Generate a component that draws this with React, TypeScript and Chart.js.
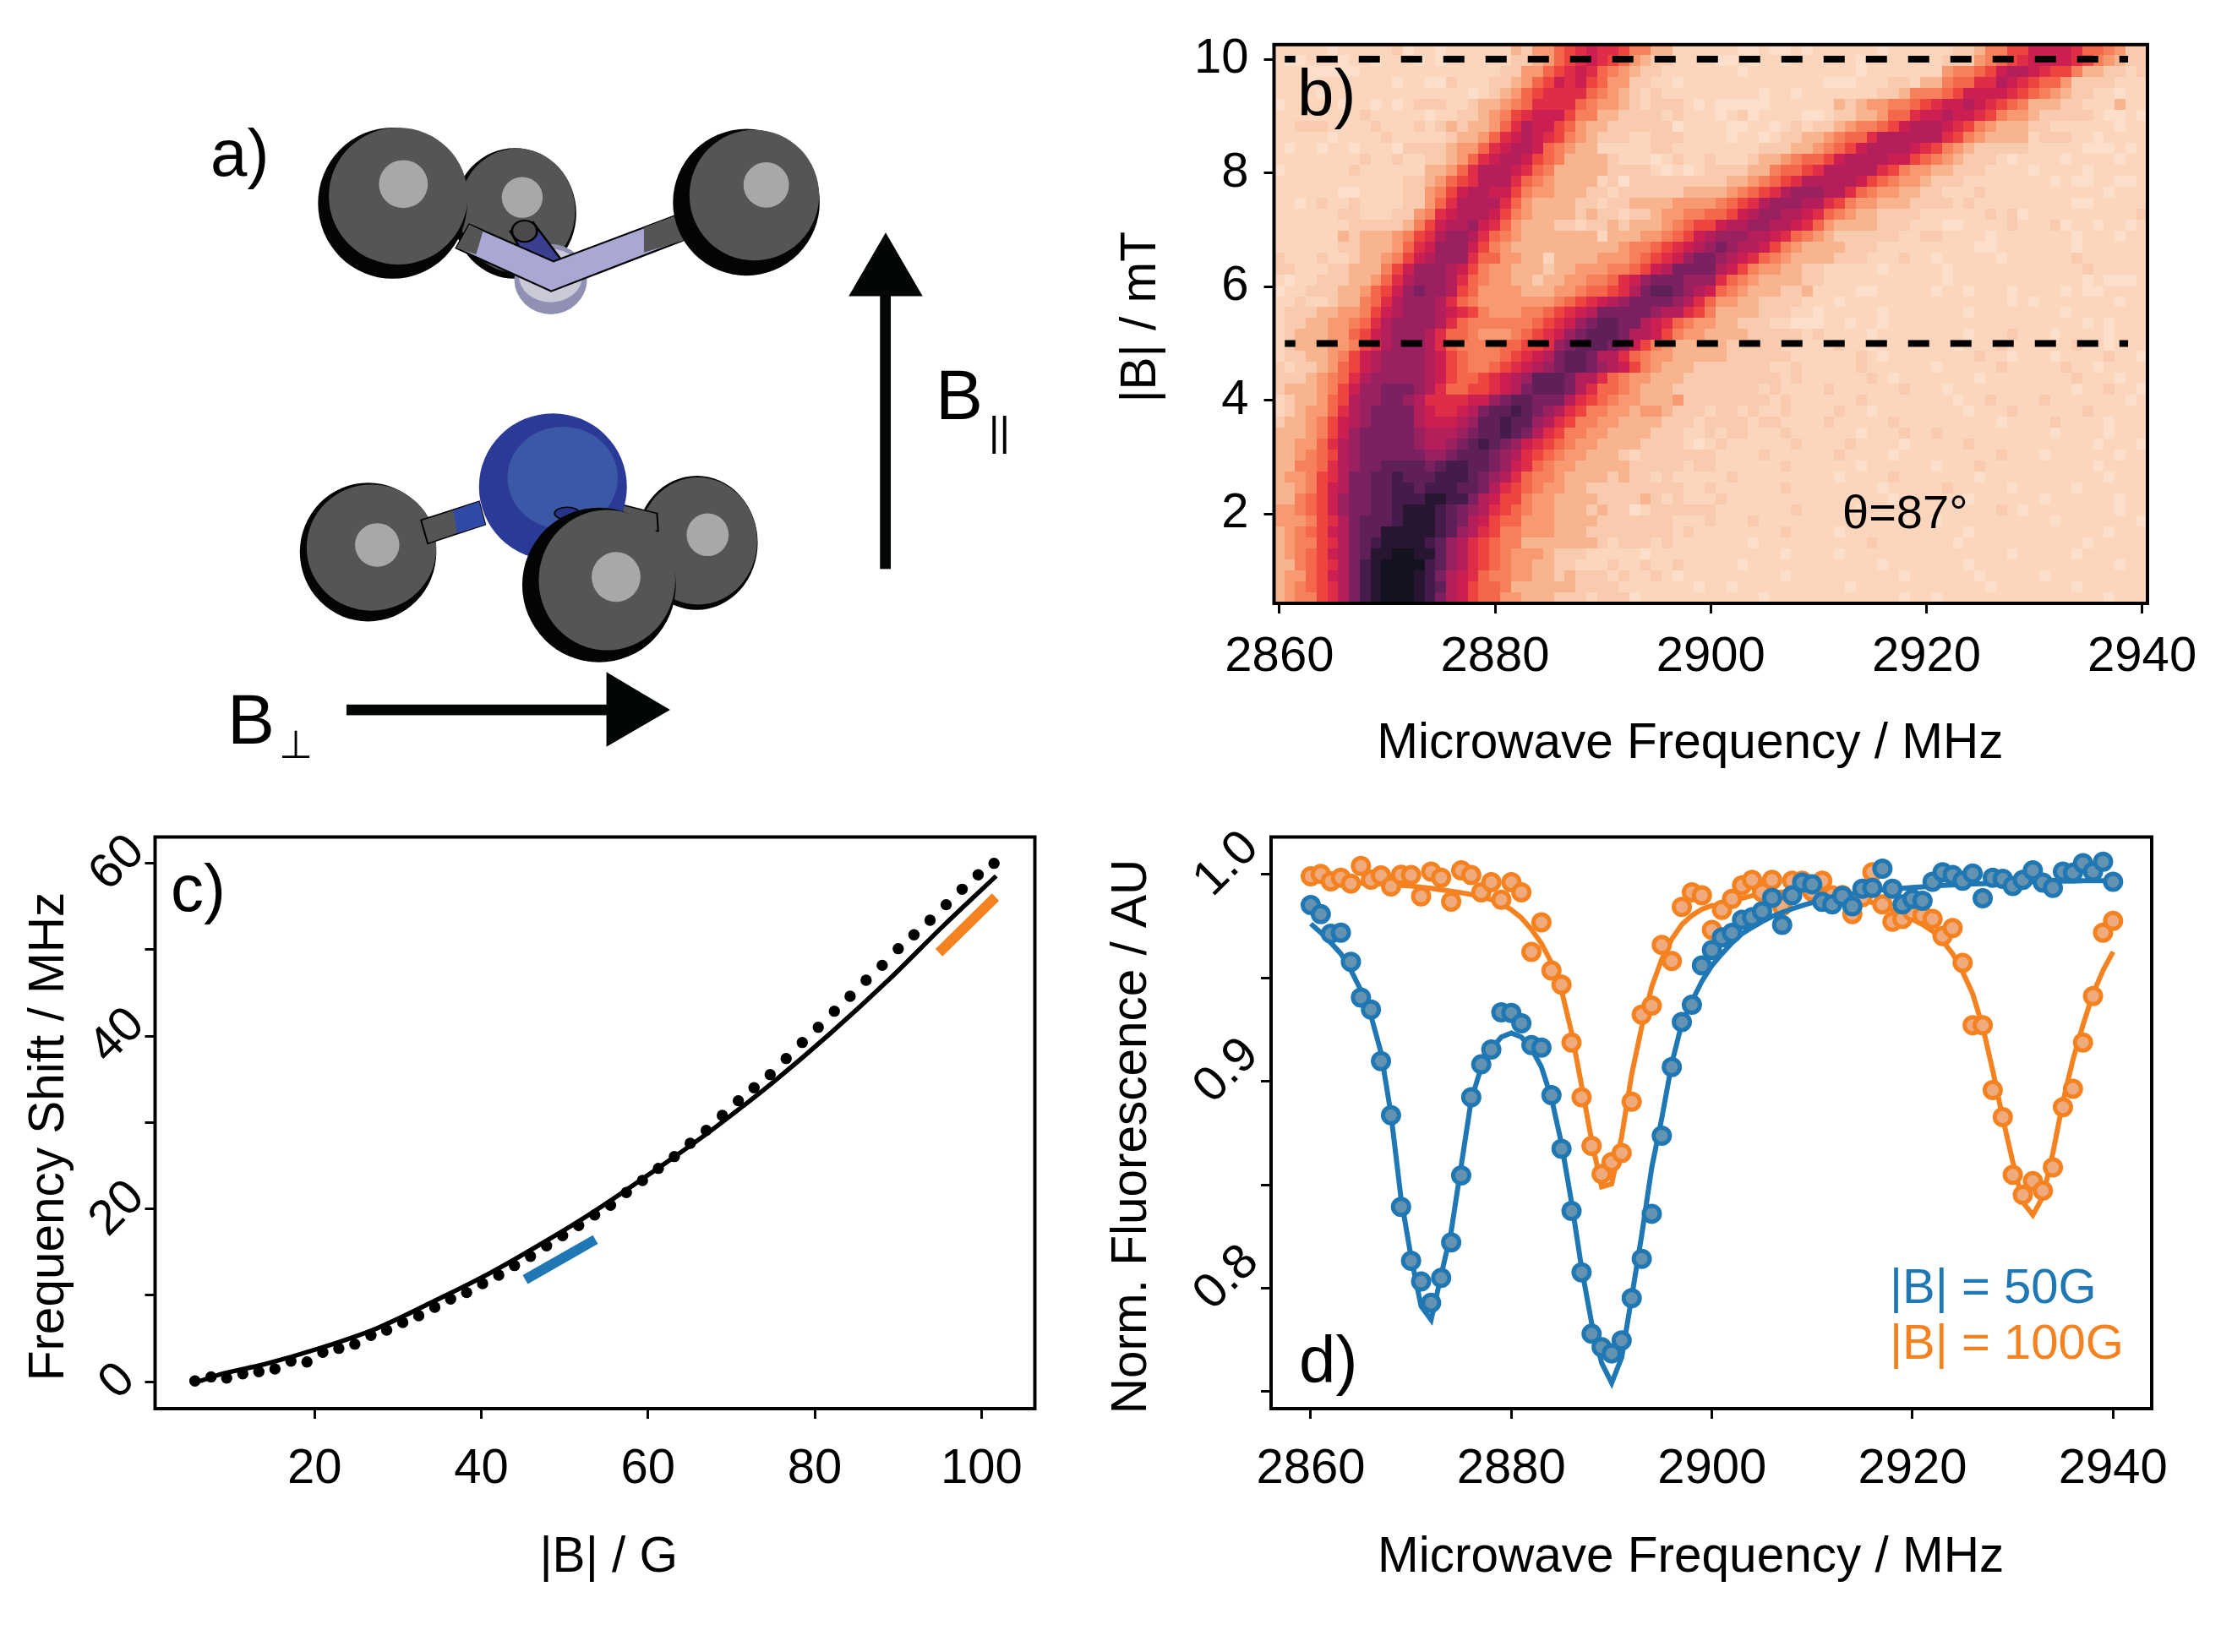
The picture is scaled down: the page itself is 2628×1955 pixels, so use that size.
import React, { useEffect, useRef } from 'react';
import { Chart, registerables } from 'chart.js';

Chart.register(...registerables);

const FONT = 'Liberation Sans';
const BLUE = '#1f77b4';
const ORANGE = '#f58220';

const frequencies = [
  2860, 2861, 2862, 2863, 2864, 2865, 2866, 2867, 2868, 2869, 2870, 2871, 2872, 2873, 2874, 2875, 2876, 2877, 2878, 2879,
  2880, 2881, 2882, 2883, 2884, 2885, 2886, 2887, 2888, 2889, 2890, 2891, 2892, 2893, 2894, 2895, 2896, 2897, 2898, 2899,
  2900, 2901, 2902, 2903, 2904, 2905, 2906, 2907, 2908, 2909, 2910, 2911, 2912, 2913, 2914, 2915, 2916, 2917, 2918, 2919,
  2920, 2921, 2922, 2923, 2924, 2925, 2926, 2927, 2928, 2929, 2930, 2931, 2932, 2933, 2934, 2935, 2936, 2937, 2938, 2939, 2940,
];

const heatFields = [
  10.16, 9.967, 9.775, 9.582, 9.389, 9.196, 9.004, 8.811, 8.618, 8.426, 8.233, 8.04, 7.847, 7.655, 7.462, 7.269, 7.076,
  6.884, 6.691, 6.498, 6.306, 6.113, 5.92, 5.727, 5.535, 5.342, 5.149, 4.956, 4.764, 4.571, 4.378, 4.186, 3.993, 3.8,
  3.607, 3.415, 3.222, 3.029, 2.836, 2.644, 2.451, 2.258, 2.066, 1.873, 1.68, 1.487, 1.295, 1.102, 0.909, 0.716, 0.524,
];

const heatColors = [
  '#fbdfca', '#fbd6bd', '#f9cbae', '#f7b48f', '#f79a72', '#f68059', '#f4674a', '#ee4440', '#df2d47',
  '#cb1f52', '#b41f5b', '#9a205f', '#7c2160', '#5f1f58', '#441b4a', '#281631', '#131220',
];

// Contrast level read per cell (0 light ... g dark), one row per field, one character per MHz.
const heatRows = [
  '1111101111 1201101111 1132446789 8875533111 1110010010 1111110111 1112235577 9999866542 2',
  '1001110110 1110101111 1122346789 8764322111 1001011011 1111011111 1122245678 9999875432 2',
  '1110000011 1111111111 1224467898 6543221111 1110111111 1111011111 1145567 9aa 9877533221 2',
  '1110111111 1011002111 2234679897 6442211011 1111111111 1000111221 3356688a98 7664222211 1',
  '1111011111 1111111101 2346788886 5432121111 1111101101 1111112235 5567999987 6543221101 1',
  '0111110110 1012221123 3456888865 4432122210 1000001111 1132344556 7899a98765 3332211131 1',
  '1111111121 1111011223 4578999755 3322221211 1012011110 0122334668 99a9987544 3222221001 0',
  '1122211112 1112123233 468a997643 3222222011 1100110121 223455679a aa98754333 2211111101 1',
  '1111101111 2111112334 689a987543 2221122211 1101101223 345668aaaa aa87543333 1222110111 1',
  '1011011011 1022223446 89aa965433 1111122111 1111122233 45679aaaa9 8754322222 1111100010 1',
  '1111111121 1211223468 9aa9765333 3211101211 2111233456 679aaaa997 6543222101 1110111101 1',
  '0111111211 111133468a aa98653333 3222210101 2222335667 8aaaaa8754 4332221111 0111101111 1',
  '1111111111 112234678a aa86543333 1202222222 223345678a aaaa976544 3222111111 1101001100 1',
  '1111110011 11224579aa 9975443332 2122222233 3345678abb baa8654433 2211121111 1111111011 1',
  '1101211211 1122468aaa a864333322 1223333444 45678abbba a875443332 2221211111 1111001111 1',
  '1111112211 1224589aaa 9754333323 2212234455 6679abbaa9 8654332222 1111112120 1111111111 2',
  '1111111222 223579aab9 8643332212 2323334567 79aabbaa98 6433332221 1100111121 1120110110 1',
  '1111113233 34578abba8 6543333333 1333445679 abbbaa9865 4322222211 2211110111 1111011101 1',
  '1111112233 34689bbb97 5433333333 334556789a bcbaa97543 3332221111 1111100111 1111011111 1',
  '2111211233 4579abbb86 6443313333 44456789bc cba9865433 3322211121 1011111011 1111211111 1',
  '2211122333 579bbba975 4433323344 455679accc ca97544332 2111110111 1101111111 1111121111 1',
  '1011222334 68abbba865 4433233445 5689bcccbb b865433332 2111111111 1101111111 1111101000 1',
  '0112223346 79bcbba764 4443334456 678acddcba 9654333223 1111001111 1011011101 1110100111 1',
  '1121123356 8abbba8654 4444445678 9abccccba8 6443322221 1101111111 1111111101 0111111101 1',
  '1222334457 9abbba9875 444556789a cccccbaa87 5333322211 0111110111 1111011111 1110111111 1',
  '1223344568 abbbba8655 5555678 9bc ddcca98654 4332221100 0110110111 1111111111 1111101011 1',
  '1233344679 abbba86654 4456789bcd ddcaa97544 3333222221 2111101111 1111011121 1101111011 1',
  '1233344578 abbba86555 566778bcdd dcb9754333 3322222111 1121101111 1110111211 1111211011 1',
  '122334579a bbbba97655 56789acddc aa86544333 3322222211 1111210111 1111121101 1101111211 0',
  '212234679a bbbba97655 6789abcddc ba97543332 2222221121 1111211111 1011111211 1112110111 1',
  '22234568ab bbbba97667 89abdddcaa 8654433322 2222222121 1111121011 1111101111 1111211101 1',
  '23334579bb cccba86677 89acdddca8 6654333222 2222212111 1211111121 1101111111 1111011211 0',
  '1233467abb ccba888899 bcddccca87 6544333422 2222221211 1111211111 1110112111 1211111110 1',
  '1234468abc ccca9889ac ddedcba875 5443443222 1221211211 1121101111 1111011121 1111121111 1',
  '2334579abc ccca999abd deddba8755 4433332221 2222122111 1211111211 1111111011 1121111011 1',
  '3334579bcc cccbaaabcd dedca87554 4333322211 2122111211 1111011121 1211111111 1101111011 1',
  '334468abcc cccbaabcde dcb9876544 3333222210 1211111121 1112111101 1111211111 1111110111 0',
  '334567abcc ccccbbcddd cba8765443 3321222222 2111121111 1121111011 1111111211 1011111101 1',
  '335568abcc ddddcdeedd cb98654433 3332222212 2111111211 1111011111 1011121111 1111110111 1',
  '344578accd dedddeeedc ba86554333 3232212111 1121111111 1101111211 1111101111 1111111011 1',
  '334579accd deedeeeddc a876544332 2222222211 2111111211 1111110111 1121111101 1111011111 1',
  '335679bccd deeeffeeca 9775443333 2222321211 1211111111 1111111011 1111011111 1011111101 1',
  '445679bccd defffedcba 8765443332 3220122222 2111111121 1111011111 1111111210 1111111101 1',
  '444578acdd defffedca9 7664443333 2222222111 2111211111 1111111101 1011111111 1101111111 0',
  '345679acdd fffffedba8 7554443332 2222222121 1111111211 1101111111 1111011111 1111111011 1',
  '345578acde ffffedba87 6553333333 2122212111 1111011111 1111121111 1110111111 1111101111 1',
  '345679acdf fggffdba87 6544432221 1111011111 1111111011 1101111111 1111111101 1111011111 1',
  '335678acef ggggedba87 6544332211 1211211211 1110111111 1111110111 1111011111 1111111101 1',
  '344679acef gggfeca986 5544332322 2121121011 1111111011 1111111101 1111101111 1011111111 1',
  '345678acef gggfeda976 6533333322 2211111110 1101111111 1110111111 1111110111 1111011111 1',
  '345578acef gggfeca976 6443332221 2220111111 1111101111 1111111101 1011111111 1111111011 1',
];

const blueData = [
  0.9852, 0.9808, 0.9714, 0.9719, 0.9578, 0.9405, 0.9347, 0.9098, 0.8836, 0.8393, 0.8133, 0.8033, 0.793, 0.805, 0.8222,
  0.8545, 0.8923, 0.9082, 0.9154, 0.9334, 0.9331, 0.9281, 0.9175, 0.9163, 0.8933, 0.8674, 0.8374, 0.8077, 0.778, 0.7715,
  0.7685, 0.7748, 0.7952, 0.8142, 0.836, 0.8737, 0.9069, 0.9287, 0.937, 0.956, 0.9635, 0.9696, 0.9718, 0.9781, 0.9793,
  0.9822, 0.9887, 0.9756, 0.9899, 0.9961, 0.9952, 0.9868, 0.9855, 0.9896, 0.9846, 0.9931, 0.9935, 1.0028, 0.9931, 0.9855,
  0.9882, 0.9873, 0.9965, 1.0011, 0.9997, 0.997, 1.0005, 0.9885, 0.9984, 0.9979, 0.9944, 0.9974, 1.002, 0.9961, 0.9935,
  1.0014, 1.0009, 1.0055, 1.0014, 1.0062, 0.9965,
];
const blueFit = [
  0.9762, 0.9719, 0.967, 0.9617, 0.9537, 0.944, 0.9317, 0.914, 0.884, 0.8434, 0.8151, 0.7913, 0.7847, 0.8063, 0.8275,
  0.8593, 0.891, 0.9069, 0.9158, 0.9214, 0.9234, 0.9214, 0.9158, 0.9069, 0.8919, 0.8699, 0.8416, 0.8098, 0.7833, 0.7639,
  0.7542, 0.7665, 0.7957, 0.8257, 0.8584, 0.8822, 0.9087, 0.9281, 0.9387, 0.9484, 0.956, 0.9617, 0.967, 0.9714, 0.9744,
  0.9772, 0.9797, 0.9816, 0.9834, 0.985, 0.9864, 0.9876, 0.9887, 0.9898, 0.9906, 0.9914, 0.9921, 0.9926, 0.9929, 0.9933,
  0.9937, 0.994, 0.9944, 0.9947, 0.9949, 0.9952, 0.9954, 0.9956, 0.9958, 0.9959, 0.9961, 0.9963, 0.9965, 0.9967, 0.9967,
  0.9968, 0.9968, 0.997, 0.997, 0.997, 0.997,
];
const orangeData = [
  0.9991, 1.0002, 0.9967, 0.9984, 0.9956, 1.0041, 0.9975, 0.9995, 0.9942, 0.9998, 0.9997, 0.9894, 1.0014, 0.9984, 0.9869,
  1.002, 0.9997, 0.9914, 0.9963, 0.9878, 0.9963, 0.9914, 0.9626, 0.9769, 0.9536, 0.9467, 0.9188, 0.8923, 0.8688, 0.8552,
  0.861, 0.8654, 0.8902, 0.9322, 0.9366, 0.9659, 0.9582, 0.9843, 0.9914, 0.9899, 0.9732, 0.9829, 0.9882, 0.9947, 0.9974,
  0.9914, 0.9974, 0.9846, 0.997, 0.997, 0.9917, 0.997, 0.9899, 0.99, 0.9808, 0.989, 1.0011, 0.9855, 0.9772, 0.9785,
  0.982, 0.9802, 0.9785, 0.9702, 0.9741, 0.9573, 0.9271, 0.9271, 0.8958, 0.8827, 0.8548, 0.8451, 0.8518, 0.8472, 0.8584,
  0.8875, 0.8964, 0.9188, 0.9412, 0.9719, 0.9776,
];
const orangeFit = [
  0.997, 0.9968, 0.9967, 0.9965, 0.9963, 0.9959, 0.9956, 0.9954, 0.9951, 0.9947, 0.9944, 0.9938, 0.9933, 0.9926, 0.9919,
  0.9912, 0.9903, 0.9892, 0.9878, 0.9861, 0.9829, 0.979, 0.9735, 0.9666, 0.9573, 0.944, 0.9237, 0.8981, 0.8716, 0.849,
  0.8504, 0.8734, 0.9034, 0.9264, 0.9458, 0.959, 0.9688, 0.9758, 0.9802, 0.9832, 0.985, 0.9846, 0.9868, 0.9885, 0.9898,
  0.9906, 0.9912, 0.9915, 0.9917, 0.9919, 0.9917, 0.9915, 0.9912, 0.9905, 0.9894, 0.9878, 0.9864, 0.9846, 0.9829, 0.9808,
  0.9783, 0.9758, 0.9726, 0.9679, 0.9617, 0.9529, 0.9423, 0.9264, 0.9052, 0.8822, 0.861, 0.8416, 0.8354, 0.8443, 0.8654,
  0.8902, 0.9105, 0.9273, 0.9423, 0.9537, 0.9626,
];

const shiftFieldG = [
  5.65, 7.58, 9.46, 11.39, 13.32, 15.25, 17.17, 19.09, 20.99, 22.91, 24.83, 26.76, 28.65, 30.58, 32.5, 34.42, 36.32,
  38.24, 40.16, 42.09, 43.98, 45.9, 47.83, 49.75, 51.68, 53.6, 55.5, 57.4, 59.33, 61.24, 63.16, 65.06, 66.98, 68.91,
  70.83, 72.72, 74.65, 76.57, 78.5, 80.42, 82.35, 84.24, 86.16, 88.09, 90.01, 91.9, 93.83, 95.76, 97.68, 99.6, 101.5,
];
const shiftMHz = [
  0.07, 0.55, 0.42, 0.91, 1.14, 1.47, 2.38, 2.28, 3.39, 3.85, 4.34, 5.35, 5.97, 6.85, 7.63, 8.61, 9.56, 10.31, 11.35,
  12.33, 13.44, 14.51, 15.72, 16.9, 18.07, 19.3, 20.43, 21.9, 23.29, 24.69, 26.06, 27.59, 29.09, 30.82, 32.52, 34.02,
  35.55, 37.41, 39.27, 41.03, 42.89, 44.62, 46.48, 48.2, 50.13, 51.73, 53.42, 55.22, 57.01, 58.68, 60.01,
];
const theoryField = [6.26, 8.62, 14.02, 20.78, 27.54, 34.3, 41.04, 47.8, 53.2, 59.6, 63.2, 67.4, 71.4, 74.8, 81.9, 89, 95.4, 101.76];
const theoryShift = [0.06, 0.82, 2.02, 3.91, 6.2, 9.3, 12.56, 16.3, 19.5, 23.65, 26.05, 28.95, 31.9, 34.5, 40.35, 46.65, 52.75, 58.55];
const blueRange = [{ x: 45.27, y: 11.81 }, { x: 53.69, y: 16.45 }];
const orangeRange = [{ x: 94.9, y: 49.67 }, { x: 101.68, y: 56.1 }];

const dashY = [10, 5];
const dashX = [2860.5, 2938.7];

const framePlugin = {
  id: 'frame',
  afterDatasetsDraw(chart: any) {
    const { ctx, chartArea: a } = chart;
    ctx.save();
    ctx.lineWidth = 4;
    ctx.strokeStyle = '#000';
    ctx.strokeRect(a.left, a.top, a.width, a.height);
    ctx.restore();
  },
};

function axis(o: any) {
  return {
    type: 'linear',
    position: o.position,
    min: o.min,
    max: o.max,
    afterFit(s: any) {
      if (o.position === 'left') s.width = o.size;
      else s.height = o.size;
    },
    border: { display: false },
    grid: { drawOnChartArea: false, drawTicks: true, tickLength: 12, tickWidth: 3, tickColor: '#000' },
    ticks: {
      stepSize: o.step,
      autoSkip: false,
      includeBounds: false,
      color: '#000',
      font: { family: FONT, size: 58 },
      padding: o.tickPad,
      minRotation: o.rotation ?? 0,
      maxRotation: o.rotation ?? 0,
      crossAlign: o.rotation ? 'center' : 'near',
      labelOffset: o.labelOffset ?? 0,
      callback: o.cb ?? ((v: number) => String(v)),
    },
    title: {
      display: true,
      text: o.title,
      color: '#000',
      font: { family: FONT, size: 58.5 },
      padding: { top: o.titlePad ?? 0, bottom: 0 },
    },
  };
}

function baseOptions(scales: any, padding: any) {
  return {
    responsive: false,
    animation: false,
    devicePixelRatio: 1,
    events: [],
    layout: { padding },
    plugins: { legend: { display: false }, tooltip: { enabled: false }, title: { display: false } },
    scales,
  };
}

function cellCanvases() {
  return heatColors.map((c) => {
    const el = document.createElement('canvas');
    el.width = 14;
    el.height = 14;
    const g = el.getContext('2d')!;
    g.fillStyle = c;
    g.fillRect(0, 0, 14, 14);
    return el;
  });
}

function heatPoints() {
  const pts: any[] = [];
  heatRows.forEach((row, r) => {
    const chars = row.replace(/\s/g, '');
    frequencies.forEach((f, c) => {
      pts.push({ x: f, y: heatFields[r], v: parseInt(chars[c] ?? '1', 17) });
    });
  });
  return pts;
}

function xy(xs: number[], ys: number[]) {
  return xs.map((x, i) => ({ x, y: ys[i] }));
}

function makeB(canvas: HTMLCanvasElement) {
  const cells = cellCanvases();
  return new Chart(canvas, {
    type: 'scatter',
    data: {
      datasets: [
        ...dashY.map((y) => ({
          data: dashX.map((x) => ({ x, y })),
          showLine: true,
          pointRadius: 0,
          borderColor: '#000',
          borderWidth: 8,
          borderDash: [25, 25],
          borderDashOffset: 12.5,
        })),
        {
          data: heatPoints(),
          showLine: false,
          pointRadius: 7,
          borderWidth: 0,
          pointStyle: (ctx: any) => (ctx.raw ? cells[ctx.raw.v] : 'rect'),
        },
      ],
    },
    options: baseOptions(
      {
        x: axis({ position: 'bottom', min: 2859.5, max: 2940.5, step: 20, size: 202, tickPad: 17, title: 'Microwave Frequency / MHz   ' }),
        y: axis({ position: 'left', min: 0.429, max: 10.256, step: 2, size: 207.5, tickPad: 18, title: ' |B| / mT', titlePad: 15.5 }),
      },
      { top: 49.7, right: 87, left: 0, bottom: 0 },
    ),
    plugins: [framePlugin],
  } as any);
}

function makeC(canvas: HTMLCanvasElement) {
  return new Chart(canvas, {
    type: 'scatter',
    data: {
      datasets: [
        { data: blueRange, showLine: true, pointRadius: 0, borderColor: BLUE, borderWidth: 12 },
        { data: orangeRange, showLine: true, pointRadius: 0, borderColor: ORANGE, borderWidth: 12 },
        { data: xy(shiftFieldG, shiftMHz), showLine: false, pointRadius: 6.7, borderWidth: 0, backgroundColor: '#000' },
        {
          data: xy(theoryField, theoryShift),
          showLine: true,
          pointRadius: 0,
          borderColor: '#000',
          borderWidth: 5.4,
          cubicInterpolationMode: 'monotone',
        },
      ],
    },
    options: baseOptions(
      {
        x: axis({ position: 'bottom', min: 0.87, max: 106.4, step: 20, size: 212, tickPad: 25, title: '  |B| / G' }),
        y: axis({
          position: 'left',
          min: -3.13,
          max: 63.06,
          step: 10,
          size: 183.5,
          tickPad: 0,
          rotation: 45,
          title: 'Frequency Shift / MHz  ',
          titlePad: 23.5,
          cb: (v: number) => (Math.round(v) % 20 === 0 ? String(Math.round(v)) : ''),
        }),
      },
      { top: 90.5, right: 75.5, left: 0, bottom: 0 },
    ),
    plugins: [framePlugin],
  } as any);
}

function makeD(canvas: HTMLCanvasElement) {
  const markers = (values: number[], edge: string, fill: string) => ({
    data: xy(frequencies, values),
    showLine: false,
    pointRadius: 9.5,
    pointBorderWidth: 5,
    pointBorderColor: edge,
    pointBackgroundColor: fill,
  });
  const fit = (values: number[], color: string) => ({
    data: xy(frequencies, values),
    showLine: true,
    pointRadius: 0,
    borderColor: color,
    borderWidth: 6,
  });
  return new Chart(canvas, {
    type: 'scatter',
    data: {
      datasets: [
        markers(blueData, BLUE, '#6493b1'),
        fit(blueFit, BLUE),
        markers(orangeData, ORANGE, '#efaa7d'),
        fit(orangeFit, ORANGE),
      ],
    },
    options: baseOptions(
      {
        x: axis({ position: 'bottom', min: 2856.04, max: 2943.85, step: 20, size: 212, tickPad: 25, title: 'Microwave Frequency / MHz   ' }),
        y: axis({
          position: 'left',
          min: 0.7418,
          max: 1.01812,
          step: 0.05,
          size: 204,
          tickPad: 0,
          rotation: 45,
          labelOffset: -12,
          title: 'Norm. Fluorescence / AU  ',
          titlePad: 4.5,
          cb: (v: number) => {
            const k = Math.round(v * 100);
            return k % 10 === 0 ? (k / 100).toFixed(1) : '';
          },
        }),
      },
      { top: 90.5, right: 82, left: 0, bottom: 0 },
    ),
    plugins: [framePlugin],
  } as any);
}

function Ball({ cx, cy, rx, ry, gx, gy, grx, gry, hx, hy, hrx, hry }: any) {
  return (
    <g>
      <ellipse cx={cx} cy={cy} rx={rx} ry={ry} fill="#030505" />
      <ellipse cx={gx} cy={gy} rx={grx} ry={gry} fill="#545655" />
      <ellipse cx={hx} cy={hy} rx={hrx} ry={hry} fill="#a8a8a8" />
    </g>
  );
}

function Molecule() {
  return (
    <g transform="translate(200,100) scale(0.673,0.526)">
      <Ball cx={608} cy={290} rx={108} ry={147} gx={612} gy={284} grx={102} gry={140} hx={621} hy={254} hrx={36} hry={46} />
      <ellipse cx={671} cy={438} rx={64} ry={79} fill="#8f90b4" />
      <ellipse cx={671} cy={430} rx={56} ry={60} fill="#c9c9d8" />
      <polygon points="600,330 640,310 690,395 640,420" fill="#3b3f8f" stroke="#000" strokeWidth={4} />
      <ellipse cx={625} cy={330} rx={22} ry={24} fill="#4a4a4a" stroke="#000" strokeWidth={4} />
      <polygon points="528,315 676,398 890,295 905,350 672,465 505,368" fill="#a9a8d4" stroke="#000" strokeWidth={4} />
      <polygon points="528,315 552,330 540,382 505,368" fill="#555" />
      <polygon points="835,322 890,295 908,350 835,378" fill="#555" />
      <Ball cx={393} cy={267} rx={131} ry={170} gx={403} gy={251} grx={122} gry={154} hx={412} hy={224} hrx={43} hry={54} />
      <Ball cx={1015} cy={265} rx={129} ry={165} gx={1029} gy={249} grx={114} gry={147} hx={1050} hy={226} hrx={40} hry={51} />

      <Ball cx={350} cy={1052} rx={120} ry={156} gx={356} gy={1042} grx={114} gry={142} hx={366} hy={1036} hrx={39} hry={49} />
      <polygon points="443,980 545,938 556,990 455,1033" fill="#555" stroke="#000" strokeWidth={3} />
      <polygon points="500,958 545,938 556,990 506,1010" fill="#2f49a8" />
      <Ball cx={928} cy={1031} rx={107} ry={151} gx={930} gy={1027} grx={104} gry={143} hx={947} hy={1013} hrx={37} hry={48} />
      <polygon points="795,945 858,965 860,1005 800,1000" fill="#555" stroke="#000" strokeWidth={3} />
      <ellipse cx={675} cy={905} rx={130} ry={165} fill="#2a3a96" />
      <ellipse cx={692} cy={885} rx={97} ry={115} fill="#3a58a6" />
      <ellipse cx={700} cy={965} rx={22} ry={14} fill="#26358a" stroke="#000" strokeWidth={3} />
      <Ball cx={756} cy={1126} rx={135} ry={174} gx={770} gy={1115} grx={120} gry={158} hx={786} hy={1108} hrx={43} hry={56} />

      <rect x={1250} y={470} width={19} height={620} fill="#020606" />
      <polygon points="1260,333 1195,476 1325,476" fill="#020606" />
      <rect x={312} y={1395} width={460} height={24} fill="#020606" />
      <polygon points="769,1322 881,1407 769,1490" fill="#020606" />
    </g>
  );
}

function Overlay() {
  const t = { fontFamily: FONT, fill: '#000' };
  return (
    <svg width={2628} height={1955} style={{ position: 'absolute', left: 0, top: 0, pointerEvents: 'none' }}>
      <Molecule />
      <text x={249} y={208} fontSize={78} {...t}>a)</text>
      <text x={1535} y={137} fontSize={78} {...t}>b)</text>
      <text x={202} y={1078} fontSize={78} {...t}>c)</text>
      <text x={1537} y={1636} fontSize={78} {...t}>d)</text>
      <text x={2180} y={625} fontSize={56} {...t}>θ=87°</text>
      <text x={2236} y={1542} fontSize={58} fontFamily={FONT} fill={BLUE}>|B| = 50G</text>
      <text x={2236} y={1608} fontSize={58} fontFamily={FONT} fill={ORANGE}>|B| = 100G</text>
      <text x={1107} y={496} fontSize={84} {...t}>B</text>
      <text x={1170} y={527} fontSize={48} {...t}>||</text>
      <text x={269} y={880} fontSize={84} {...t}>B</text>
      <text x={330} y={897} fontSize={46} fontFamily="DejaVu Sans" fill="#000">⊥</text>
    </svg>
  );
}

export default function App() {
  const bRef = useRef<HTMLCanvasElement>(null);
  const cRef = useRef<HTMLCanvasElement>(null);
  const dRef = useRef<HTMLCanvasElement>(null);

  useEffect(() => {
    const charts = [makeB(bRef.current!), makeC(cRef.current!), makeD(dRef.current!)];
    return () => charts.forEach((c) => c.destroy());
  }, []);

  const pos = (left: number, top: number) => ({ position: 'absolute' as const, left, top });
  return (
    <div style={{ position: 'absolute', left: 0, top: 0, width: 2628, height: 1955, background: '#fff', overflow: 'hidden' }}>
      <canvas ref={bRef} width={1328} height={916} style={pos(1300, 0)} />
      <canvas ref={cRef} width={1300} height={979} style={pos(0, 900)} />
      <canvas ref={dRef} width={1328} height={979} style={pos(1300, 900)} />
      <Overlay />
    </div>
  );
}
